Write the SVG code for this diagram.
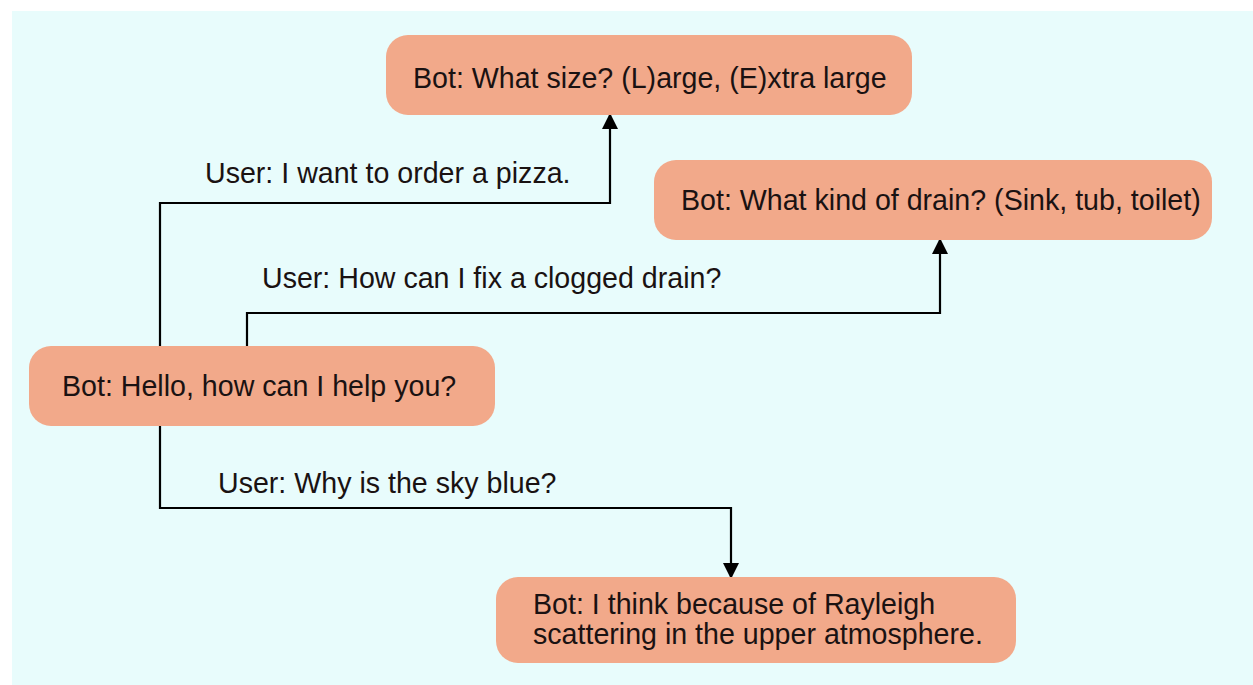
<svg xmlns="http://www.w3.org/2000/svg" width="1253" height="685" viewBox="0 0 1253 685">
<style>
.node{fill:#f2a98a}
text{font-family:"Liberation Sans",Arial,sans-serif;font-size:28.6px;fill:#1a1212}
.edge{fill:none;stroke:#000;stroke-width:2.2}
</style>
<defs>
<marker id="ah" viewBox="0 0 16 16" refX="15" refY="8" markerWidth="16" markerHeight="16" markerUnits="userSpaceOnUse" orient="auto">
<path d="M0,0L16,8L0,16z" fill="#000"/>
</marker>
</defs>
<rect width="1253" height="685" fill="#ffffff"/>
<rect x="12" y="11" width="1241" height="674" fill="#e8fcfc"/>
<g id="connectors">
<path class="edge" d="M160,346V203H610V114" marker-end="url(#ah)"/>
<path class="edge" d="M247,346V313H940V239" marker-end="url(#ah)"/>
<path class="edge" d="M160,426V508H731V578" marker-end="url(#ah)"/>
<text x="205" y="183">User: I want to order a pizza.</text>
<text x="262" y="288">User: How can I fix a clogged drain?</text>
<text x="218" y="493">User: Why is the sky blue?</text>
</g>
<g id="node-size">
<rect class="node" x="386" y="35" width="526" height="80" rx="22"/>
<text x="413" y="88">Bot: What size? (L)arge, (E)xtra large</text>
</g>
<g id="node-drain">
<rect class="node" x="654" y="160" width="558" height="80" rx="22"/>
<text x="681" y="210">Bot: What kind of drain? (Sink, tub, toilet)</text>
</g>
<g id="node-hello">
<rect class="node" x="29" y="346" width="466" height="80" rx="22"/>
<text x="62" y="396">Bot: Hello, how can I help you?</text>
</g>
<g id="node-sky">
<rect class="node" x="496" y="577" width="520" height="86" rx="22"/>
<text x="533" y="614">Bot: I think because of Rayleigh</text>
<text x="533" y="644">scattering in the upper atmosphere.</text>
</g>
</svg>
